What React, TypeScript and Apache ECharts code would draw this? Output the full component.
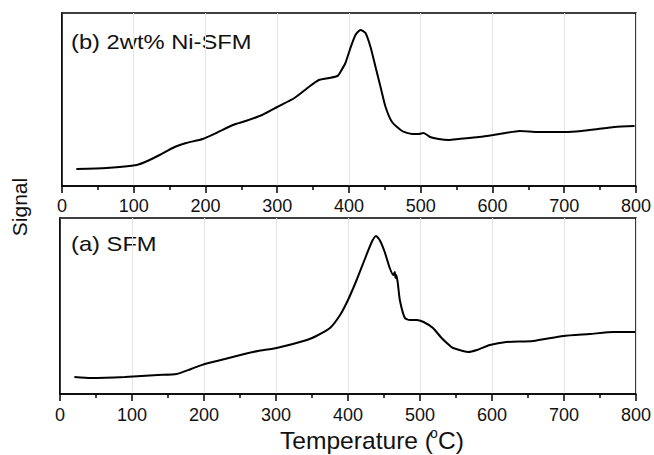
import React, { useEffect, useRef } from "react";
import * as echarts from "echarts";

// Temperature (°C) and signal (arb. units) for (b) 2wt% Ni-SFM
const tempB = [20, 62, 104, 122, 136, 157, 173, 196, 215, 238, 256, 279, 300, 324, 344, 358, 372, 384, 388, 395, 402, 409, 416, 423, 430, 437, 444, 451, 460, 474, 488, 497, 504, 513, 525, 539, 553, 581, 601, 618, 638, 664, 701, 724, 747, 770, 798];
const signalB = [17, 18, 21, 26, 31, 39, 43, 47, 53, 61, 65, 71, 79, 88, 99, 106, 108, 110, 114, 123, 138, 151, 156, 153, 139, 119, 99, 79, 64, 55, 52, 52, 53, 49, 47, 46, 47, 49, 51, 53, 55, 54, 54, 55, 57, 59, 60];

// Temperature (°C) and signal (arb. units) for (a) SFM
const tempA = [20, 43, 90, 136, 162, 182, 201, 229, 256, 275, 301, 343, 356, 375, 389, 400, 412, 424, 433, 439, 444, 451, 458, 463, 465, 466, 467, 469, 472, 479, 486, 495, 505, 518, 530, 542, 546, 567, 579, 597, 620, 657, 699, 736, 769, 799];
const signalA = [17, 16, 17, 19, 20, 25, 30, 35, 40, 43, 46, 54, 58, 66, 79, 94, 114, 136, 152, 158, 154, 142, 126, 119, 122, 116, 119, 112, 94, 76, 74, 74, 72, 66, 56, 48, 46, 42, 44, 49, 52, 53, 58, 60, 62, 62];

const xTicks = [0, 100, 200, 300, 400, 500, 600, 700, 800];
const panelLabels = ["(b) 2wt% Ni-SFM", "(a) SFM"];
const xTitle = ["Temperature (", "o", "C)"];
const yTitle = "Signal";

const FONT = "Liberation Sans, Arial, Helvetica, sans-serif";

function xAxisFor(gridIndex: number, margin: number) {
  return {
    type: "value",
    gridIndex,
    min: xTicks[0],
    max: xTicks[xTicks.length - 1],
    interval: xTicks[1] - xTicks[0],
    axisLine: { show: true, lineStyle: { color: "#000", width: 1.5 } },
    axisTick: { show: true, inside: false, length: 7, lineStyle: { color: "#000", width: 1.5 } },
    minorTick: { show: true, splitNumber: 2, length: 4, lineStyle: { color: "#000", width: 1.5 } },
    splitLine: { show: true, lineStyle: { color: "#e4e4e4", width: 1 } },
    axisLabel: { show: true, color: "#111", fontSize: 18, fontFamily: FONT, margin },
  };
}

function yAxisFor(gridIndex: number, max: number) {
  return {
    type: "value",
    gridIndex,
    min: 0,
    max,
    axisLine: { show: true, lineStyle: { color: "#000", width: 1.5 } },
    axisTick: { show: false },
    axisLabel: { show: false },
    splitLine: { show: false },
  };
}

export default function App() {
  const ref = useRef<HTMLDivElement>(null);
  useEffect(() => {
    document.body.style.margin = "0";
    const chart = echarts.init(ref.current!, null, { renderer: "svg" });
    chart.setOption({
      animation: false,
      backgroundColor: "#fff",
      grid: [
        { left: 62, top: 13, width: 576, height: 173, show: true, borderColor: "#000", borderWidth: 1.5, backgroundColor: "transparent" },
        { left: 60, top: 218, width: 576, height: 176, show: true, borderColor: "#000", borderWidth: 1.5, backgroundColor: "transparent" },
      ],
      xAxis: [xAxisFor(0, 11), xAxisFor(1, 12)],
      yAxis: [yAxisFor(0, 173), yAxisFor(1, 176)],
      series: [
        {
          type: "line",
          xAxisIndex: 0,
          yAxisIndex: 0,
          data: tempB.map((t, i) => [t, signalB[i]]),
          showSymbol: false,
          smooth: 0.2,
          lineStyle: { color: "#000", width: 2 },
        },
        {
          type: "line",
          xAxisIndex: 1,
          yAxisIndex: 1,
          data: tempA.map((t, i) => [t, signalA[i]]),
          showSymbol: false,
          smooth: 0.2,
          lineStyle: { color: "#000", width: 2 },
        },
      ],
      graphic: [
        {
          type: "text",
          x: 71,
          y: 42,
          scaleX: 1.13,
          style: { text: panelLabels[0], fontSize: 21, fontFamily: FONT, fill: "#111", textAlign: "left", textVerticalAlign: "middle" },
        },
        {
          type: "text",
          x: 71,
          y: 244,
          scaleX: 1.13,
          style: { text: panelLabels[1], fontSize: 21, fontFamily: FONT, fill: "#111", textAlign: "left", textVerticalAlign: "middle" },
        },
        {
          type: "text",
          x: 280,
          y: 441,
          scaleX: 1.07,
          style: { text: xTitle[0], fontSize: 23, fontFamily: FONT, fill: "#111", textAlign: "left", textVerticalAlign: "middle" },
        },
        {
          type: "text",
          x: 430,
          y: 433,
          style: { text: xTitle[1], fontSize: 14, fontFamily: FONT, fill: "#111", textAlign: "left", textVerticalAlign: "middle" },
        },
        {
          type: "text",
          x: 438,
          y: 441,
          scaleX: 1.07,
          style: { text: xTitle[2], fontSize: 23, fontFamily: FONT, fill: "#111", textAlign: "left", textVerticalAlign: "middle" },
        },
        {
          type: "text",
          x: 19,
          y: 207,
          rotation: Math.PI / 2,
          style: { text: yTitle, fontSize: 21, fontFamily: FONT, fill: "#111", textAlign: "center", textVerticalAlign: "middle" },
        },
      ],
    });
    return () => chart.dispose();
  }, []);
  return <div ref={ref} style={{ position: "absolute", left: 0, top: 0, width: 654, height: 455 }} />;
}
